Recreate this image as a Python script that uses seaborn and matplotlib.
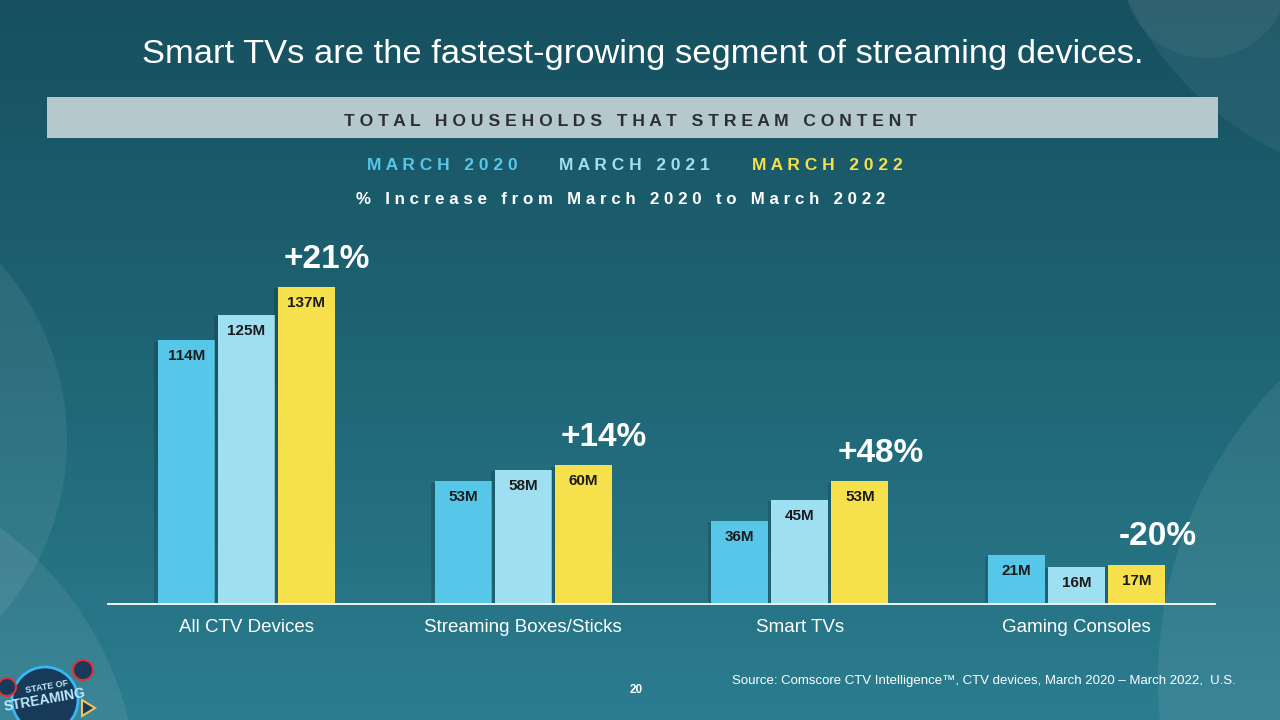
import numpy as np
import pandas as pd
import matplotlib
matplotlib.use('Agg')
import matplotlib.pyplot as plt
import matplotlib.patheffects as pe
from matplotlib.patches import Circle, Rectangle, Polygon
from matplotlib.colors import LinearSegmentedColormap
import seaborn as sns

# --- Data ---
devices = ['All CTV Devices', 'Streaming Boxes/Sticks', 'Smart TVs', 'Gaming Consoles']
years = ['March 2020', 'March 2021', 'March 2022']
hh_2020 = [114, 53, 36, 21]
hh_2021 = [125, 58, 45, 16]
hh_2022 = [137, 60, 53, 17]
pct_change = ['+21%', '+14%', '+48%', '-20%']
year_colors = ['#56c7e8', '#9ee0f2', '#f6e04b']

df = pd.DataFrame({
    'Device': devices * 3,
    'Year': np.repeat(years, len(devices)),
    'Households': hh_2020 + hh_2021 + hh_2022,
})


def spaced(s, gap=' ', word_gap='   '):
    # fake letter-spacing by putting spaces between characters
    return word_gap.join(gap.join(list(w)) for w in s.split(' '))


sns.set_theme(style='white')
plt.rcParams['font.family'] = ['Liberation Sans', 'DejaVu Sans']

fig = plt.figure(figsize=(12.8, 7.2), dpi=100)

# --- Background slide (pixel coordinates, y down) ---
bg = fig.add_axes([0, 0, 1, 1])
grad = np.linspace(0, 1, 256).reshape(-1, 1)
cmap = LinearSegmentedColormap.from_list('slide', ['#16505f', '#1f6575', '#2b7d8f'])
bg.imshow(grad, extent=[0, 1280, 720, 0], cmap=cmap, aspect='auto')
bg.set_xlim(0, 1280)
bg.set_ylim(720, 0)
bg.axis('off')

for (cx, cy), r, a in [((1422, -142), 327, 0.06), ((1206, -25), 83, 0.05),
                       ((-200, 440), 267, 0.07), ((-200, 800), 338, 0.07),
                       ((1588, 680), 430, 0.07)]:
    bg.add_patch(Circle((cx, cy), r, facecolor='white', alpha=a, lw=0))

bg.text(643, 55, 'Smart TVs are the fastest-growing segment of streaming devices.',
        ha='center', va='center', fontsize=24.8, color='white')

bg.add_patch(Rectangle((47, 97), 1171, 41, facecolor='#b4c8cd', lw=0))
bg.text(630, 121, spaced('TOTAL HOUSEHOLDS THAT STREAM CONTENT'),
        ha='center', va='center', fontsize=12.6, fontweight='bold', color='#2b2f33')

for x, label, c in zip([442, 634, 827], years, year_colors):
    bg.text(x, 166, spaced(label.upper()), ha='center', va='center',
            fontsize=12.5, fontweight='bold', color=c)

bg.text(621, 199, spaced('% Increase from March 2020 to March 2022'),
        ha='center', va='center', fontsize=12.2, fontweight='bold', color='white')

bg.text(732, 681, 'Source: Comscore CTV Intelligence\u2122, CTV devices, March 2020 \u2013 March 2022,  U.S.',
        ha='left', va='center', fontsize=9.5, color='white')
bg.text(636, 690, '20', ha='center', va='center', fontsize=8.5, fontweight='bold', color='white')

# small "State of Streaming" badge
bg.add_patch(Circle((45, 700), 33, facecolor='#163a57', edgecolor='#39b6f5', lw=2))
bg.add_patch(Circle((83, 670), 10, facecolor='#163a57', edgecolor='#e0303a', lw=1.5))
bg.add_patch(Circle((7, 687), 9, facecolor='#163a57', edgecolor='#e0303a', lw=1.5))
bg.add_patch(Polygon([[82, 700], [82, 716], [95, 708]], closed=True,
                     facecolor='#163a57', edgecolor='#f0c060', lw=1.5))
bg.text(47, 687, 'STATE OF', ha='center', va='center', fontsize=6.5, fontweight='bold',
        color='#bfeaff', rotation=10)
bg.text(45, 700, 'STREAMING', ha='center', va='center', fontsize=10, fontweight='bold',
        color='#bfeaff', rotation=10)

# --- Bar chart ---
ax = fig.add_axes([108 / 1280, 116 / 720, (1215 - 108) / 1280, 374 / 720])
sns.barplot(data=df, x='Device', y='Households', hue='Year', palette=year_colors,
            width=0.65, gap=0.05, saturation=1, legend=False, linewidth=0, ax=ax)
ax.set_xlim(-0.5, 3.5)
ax.set_ylim(0, 374 / 2.314)
ax.patch.set_alpha(0)
for side in ['top', 'right', 'left']:
    ax.spines[side].set_visible(False)
ax.spines['bottom'].set_color('white')
ax.spines['bottom'].set_linewidth(1.3)
ax.set_yticks([])
ax.set_xlabel('')
ax.set_ylabel('')
ax.tick_params(axis='x', length=0, pad=11, labelsize=13.5, labelcolor='white')

for bar in ax.patches:
    bar.set_path_effects([pe.SimplePatchShadow(offset=(-2.5, -1), alpha=0.15, shadow_rgbFace='black'),
                          pe.Normal()])

for cont, vals in zip(ax.containers, [hh_2020, hh_2021, hh_2022]):
    for bar, v in zip(cont, vals):
        ax.annotate(f'{v}M', (bar.get_x() + bar.get_width() / 2, bar.get_height()),
                    xytext=(0, -11.5), textcoords='offset points', ha='center', va='center',
                    fontsize=11, fontweight='bold', color='#1b1b1b')

for bar, p in zip(ax.containers[2], pct_change):
    ax.annotate(p, (bar.get_x() + bar.get_width() / 2, bar.get_height()),
                xytext=(15, 20), textcoords='offset points', ha='center', va='center',
                fontsize=24, fontweight='bold', color='white', annotation_clip=False)

fig.savefig('out.png', dpi=100)
